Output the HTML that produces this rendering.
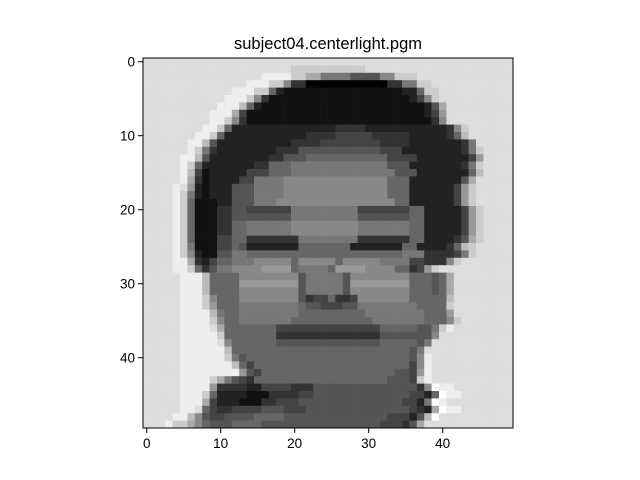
<!DOCTYPE html>
<html><head><meta charset="utf-8"><style>
html,body{margin:0;padding:0;background:#fff;}
svg{display:block;font-family:"Liberation Sans","DejaVu Sans",sans-serif;}
</style></head><body>
<svg id="chart" width="640" height="480" viewBox="0 0 640 480">
<text x="328" y="49" text-anchor="middle" font-size="16.5" fill="#000">subject04.centerlight.pgm</text>
<g id="cells"></g>
<g id="axes"></g>
</svg>
<script>
// Image data: one run-length encoded row per image row: "count value" with hex gray level (0=black, f=white)
const rows = [
"50d",
"20d,10c,20d",
"16d,4e,2c,2a,47,45,28,3c,13d",
"14d,3e,2c,18,23,110,23,27,2c,11d",
"12d,3e,2c,16,12,161,22,16,2c,10d",
"11d,3e,1c,18,13,191,12,14,18,1c,10d",
"10d,3e,1b,16,12,221,12,15,1a,9d",
"9d,3e,1a,14,241,12,14,19,9d",
"9d,2e,1c,18,13,251,13,18,9d",
"8d,2e,1c,16,12,132,43,82,32,13,18,1c,6d",
"7d,2e,1c,16,12,102,43,54,53,52,13,16,1b,6d",
"6d,2e,1b,15,12,92,43,84,43,72,13,17,5d",
"6d,1e,1c,17,13,12,72,33,35,85,34,72,12,13,17,1c,4d",
"5d,2e,1b,15,12,72,23,35,116,44,62,12,14,19,4d",
"5d,1e,1c,16,12,62,23,36,137,35,72,13,17,1c,4d",
"5d,1e,1b,14,11,52,34,36,147,35,62,12,16,1b,4d",
"5d,1e,1a,13,11,42,24,47,148,36,62,12,15,1a,5d",
"4d,1e,1d,19,12,11,32,35,47,148,36,52,12,14,19,1c,5d",
"4d,1e,1c,17,12,11,32,35,47,148,36,52,12,14,19,1c,5d",
"4d,1e,1c,16,11,21,22,35,37,168,26,52,12,14,19,1c,5d",
"4d,1e,1c,16,31,23,25,64,97,74,26,52,14,19,1c,4d",
"4d,1e,1c,16,31,23,25,65,97,75,26,52,14,19,1c,4d",
"4d,1e,1c,16,31,23,26,67,98,77,26,52,14,19,1c,4d",
"4d,1e,1c,16,31,23,26,67,98,77,26,52,14,19,1c,4d",
"4d,1e,1c,16,31,24,26,73,87,73,26,42,13,15,1a,1c,4d",
"4d,1e,1c,17,31,24,16,15,72,76,72,26,42,13,16,1b,1c,5d",
"4d,1e,1c,18,12,21,25,27,66,86,76,37,43,14,17,1c,5d",
"4d,2e,1a,13,12,14,26,37,58,16,58,16,58,47,24,23,13,18,1c,8d",
"4d,2e,1c,16,13,15,27,48,49,16,47,16,49,48,26,13,14,19,1c,10d",
"5d,3e,1b,46,88,15,57,15,88,36,15,16,1a,8d",
"5d,3e,1b,46,89,15,57,15,89,36,15,16,1a,8d",
"5d,3e,1b,46,88,15,57,15,88,36,15,16,1a,8d",
"5d,3e,1c,18,36,88,15,13,24,16,23,14,78,46,16,1b,8d",
"5d,3e,1c,19,36,87,16,25,34,25,87,46,1c,8d",
"5d,3e,1e,1b,17,26,87,96,87,36,19,8d",
"5d,4e,1c,18,26,77,116,77,36,18,1c,7d",
"5d,4e,1d,1a,76,144,56,25,17,1c,1e,8d",
"5d,5e,1c,16,66,143,55,25,18,1d,9d",
"5d,5e,1d,18,16,56,145,56,15,17,1d,10d",
"5d,6e,1b,16,56,146,46,15,17,1d,11d",
"5d,6e,1c,17,15,176,56,15,18,1e,11d",
"5d,6e,1e,1b,16,14,166,56,14,18,1e,11d",
"5d,6e,1e,1e,19,15,14,186,25,14,19,1e,11d",
"5d,4e,1c,1a,17,15,14,13,186,35,14,1c,1e,11d",
"5d,4e,19,43,22,44,33,145,13,18,1f,2e,8d",
"5d,3e,1c,16,42,31,43,24,135,24,12,16,1f,2e,7d",
"5d,3e,1a,14,32,31,23,34,145,24,12,17,1f,1e,9d",
"5d,2e,1d,16,14,23,44,35,34,145,14,13,12,1a,1f,2e,7d",
"4d,2e,1b,18,15,24,45,46,145,34,12,15,1b,1f,10d",
"3d,1e,2c,1a,18,16,35,46,165,34,13,15,1a,1d,11d"
];
const xTicks = [0,10,20,30,40];
const yTicks = [0,10,20,30,40];

const NS = "http://www.w3.org/2000/svg";
const AX = {left:143, top:58, size:370, n:50};
const cell = AX.size / AX.n;
function xPos(v){ return AX.left + v * cell; }
function yPos(v){ return AX.top + v * cell; }
function decode(s){
  const out = [];
  s.split(",").forEach(tok=>{
    const cnt = parseInt(tok.slice(0,-1),10);
    const val = parseInt(tok.slice(-1),16);
    for(let i=0;i<cnt;i++) out.push(val);
  });
  while(out.length < AX.n) out.push(out.length ? out[out.length-1] : 13);
  return out.slice(0, AX.n);
}
const cellsG = document.getElementById("cells");
rows.slice(0, AX.n).forEach((row, r)=>{
  const vals = decode(row);
  vals.forEach((v, c)=>{
    const g = Math.round(v * 17);
    const rect = document.createElementNS(NS, "rect");
    rect.setAttribute("x", xPos(c).toFixed(2));
    rect.setAttribute("y", yPos(r).toFixed(2));
    rect.setAttribute("width", (cell + 0.3).toFixed(2));
    rect.setAttribute("height", (cell + 0.3).toFixed(2));
    rect.setAttribute("fill", `rgb(${g},${g},${g})`);
    
    
    cellsG.appendChild(rect);
  });
});
const axes = document.getElementById("axes");
const frame = document.createElementNS(NS, "rect");
frame.setAttribute("x", AX.left); frame.setAttribute("y", AX.top);
frame.setAttribute("width", AX.size); frame.setAttribute("height", AX.size);
frame.setAttribute("fill", "none"); frame.setAttribute("stroke", "#000"); frame.setAttribute("stroke-width", "1");


axes.appendChild(frame);
xTicks.forEach(t=>{
  const x = xPos(t + 0.5);
  const ln = document.createElementNS(NS, "line");
  ln.setAttribute("x1", x); ln.setAttribute("x2", x);
  ln.setAttribute("y1", AX.top + AX.size); ln.setAttribute("y2", AX.top + AX.size + 5);
  ln.setAttribute("stroke", "#000");
  
  
  axes.appendChild(ln);
  const tx = document.createElementNS(NS, "text");
  tx.setAttribute("x", x); tx.setAttribute("y", AX.top + AX.size + 20);
  tx.setAttribute("text-anchor", "middle"); tx.setAttribute("font-size", "13.5");
  tx.textContent = t;
  
  
  axes.appendChild(tx);
});
yTicks.forEach(t=>{
  const y = yPos(t + 0.5);
  const ln = document.createElementNS(NS, "line");
  ln.setAttribute("x1", AX.left - 5); ln.setAttribute("x2", AX.left);
  ln.setAttribute("y1", y); ln.setAttribute("y2", y);
  ln.setAttribute("stroke", "#000");
  
  
  axes.appendChild(ln);
  const tx = document.createElementNS(NS, "text");
  tx.setAttribute("x", AX.left - 8); tx.setAttribute("y", y + 5);
  tx.setAttribute("text-anchor", "end"); tx.setAttribute("font-size", "13.5");
  tx.textContent = t;
  
  
  axes.appendChild(tx);
});
</script>
</body></html>
